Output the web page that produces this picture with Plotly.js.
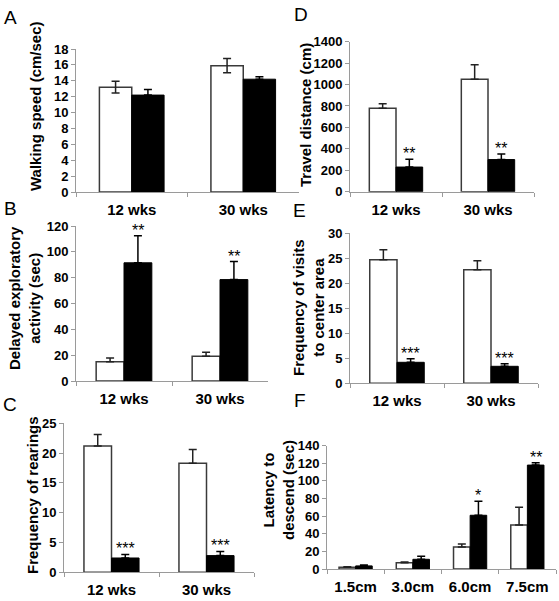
<!DOCTYPE html>
<html><head><meta charset="utf-8">
<script src="https://cdn.plot.ly/plotly-3.0.1.min.js"></script>
<style>html,body{margin:0;padding:0;background:#fff}#chart{width:559px;height:601px}</style>
</head><body><div id="chart"></div>
<script>
// ---- data ----
const agesWks = ["12 wks", "30 wks"];
const heights = ["1.5cm", "3.0cm", "6.0cm", "7.5cm"];

const speedCtrl = [13.2, 15.9],   speedCtrlErr = [0.75, 0.9];
const speedMut  = [12.2, 14.2],   speedMutErr  = [0.7, 0.3];

const delayCtrl = [14.9, 19.2],   delayCtrlErr = [3, 3];
const delayMut  = [91.5, 78.5],   delayMutErr  = [21, 14];
const delaySig  = ["**", "**"];

const rearCtrl = [21.2, 18.3],    rearCtrlErr = [1.9, 2.3];
const rearMut  = [2.4, 2.8],      rearMutErr  = [0.6, 0.7];
const rearSig  = ["***", "***"];

const travelCtrl = [780, 1050],   travelCtrlErr = [40, 135];
const travelMut  = [230, 300],    travelMutErr  = [72, 52];
const travelSig  = ["**", "**"];

const visitCtrl = [24.7, 22.7],   visitCtrlErr = [2.0, 1.8];
const visitMut  = [4.2, 3.4],     visitMutErr  = [0.7, 0.5];
const visitSig  = ["***", "***"];

const latCtrl = [2, 7, 25, 50],    latCtrlErr = [0.5, 1, 3.5, 20];
const latMut  = [3.5, 11, 61, 118], latMutErr  = [1, 3.5, 16, 2.5];
const latSig  = ["", "", "*", "**"];

// ---- layout helpers ----
const W = 559, H = 601;
const px = v => v / W;
const py = v => 1 - v / H;
const BARGAP = 0.42;
const OFF = (1 - BARGAP) / 4;
const FONT = "Liberation Sans, Arial, sans-serif";
const AX = "#9a9a9a";

const traces = [];
const annotations = [];

function panel(n, cats, ctrl, ctrlErr, mut, mutErr, sig, symmetric) {
  const xa = n === 1 ? "x" : "x" + n, ya = n === 1 ? "y" : "y" + n;
  traces.push({
    type: "bar", x: cats, y: ctrl, xaxis: xa, yaxis: ya,
    marker: {color: "#ffffff", line: {color: "#3a3a3a", width: 1.5}},
    error_y: symmetric ? {type: "data", array: ctrlErr, color: "#222", thickness: 1.5, width: 4}
                       : {type: "data", array: ctrlErr, arrayminus: ctrlErr.map(() => 0), symmetric: false, color: "#222", thickness: 1.5, width: 4},
    showlegend: false, hoverinfo: "skip"
  });
  traces.push({
    type: "bar", x: cats, y: mut, xaxis: xa, yaxis: ya,
    marker: {color: "#000000", line: {color: "#000", width: 1}},
    error_y: {type: "data", array: mutErr, arrayminus: mutErr.map(() => 0), symmetric: false, color: "#000", thickness: 1.5, width: 4},
    showlegend: false, hoverinfo: "skip"
  });
  if (sig) {
    sig.forEach((s, i) => {
      if (!s) return;
      annotations.push({
        xref: xa, yref: ya, x: i + OFF, y: mut[i] + mutErr[i],
        yanchor: "bottom", xanchor: "center", yshift: -5,
        text: s, showarrow: false, font: {family: FONT, size: 16, color: "#000"}
      });
    });
  }
}

panel(1, agesWks, speedCtrl, speedCtrlErr, speedMut, speedMutErr, null, true);
panel(2, agesWks, delayCtrl, delayCtrlErr, delayMut, delayMutErr, delaySig, false);
panel(3, agesWks, rearCtrl, rearCtrlErr, rearMut, rearMutErr, rearSig, false);
panel(4, agesWks, travelCtrl, travelCtrlErr, travelMut, travelMutErr, travelSig, false);
panel(5, agesWks, visitCtrl, visitCtrlErr, visitMut, visitMutErr, visitSig, false);
panel(6, heights, latCtrl, latCtrlErr, latMut, latMutErr, latSig, false);

function xaxis(x0, x1, n) {
  return {
    domain: [px(x0), px(x1)], anchor: n === 1 ? "y" : "y" + n,
    type: "category", showline: true, linecolor: AX, linewidth: 1,
    ticks: "outside", tickson: "boundaries", ticklen: 4, tickcolor: AX,
    showgrid: false, zeroline: false, ticklabelstandoff: 4,
    tickfont: {family: FONT, size: 15, color: "#000", weight: "bold"}
  };
}
function yaxis(y0, y1, max, dt, n) {
  return {
    domain: [py(y0), py(y1)], anchor: n === 1 ? "x" : "x" + n,
    range: [0, max], dtick: dt, tick0: 0,
    showline: true, linecolor: AX, linewidth: 1,
    ticks: "outside", ticklen: 4, tickcolor: AX,
    showgrid: false, zeroline: false,
    tickfont: {family: FONT, size: 13, color: "#000", weight: "bold"}
  };
}

const layout = {
  width: W, height: H, margin: {l: 0, r: 0, t: 0, b: 0},
  paper_bgcolor: "#fff", plot_bgcolor: "#fff",
  barmode: "group", bargap: BARGAP, bargroupgap: 0, showlegend: false,
  xaxis: xaxis(76, 299, 1),   yaxis: yaxis(192, 49, 18, 2, 1),
  xaxis2: xaxis(76, 268, 2),  yaxis2: yaxis(381, 226, 120, 20, 2),
  xaxis3: xaxis(64, 254, 3),  yaxis3: yaxis(572.3, 423.3, 25, 5, 3),
  xaxis4: xaxis(350, 534, 4), yaxis4: yaxis(191.7, 41.7, 1400, 200, 4),
  xaxis5: xaxis(350, 538, 5), yaxis5: yaxis(383.3, 233.3, 30, 5, 5),
  xaxis6: xaxis(327, 556, 6), yaxis6: yaxis(569, 445.7, 140, 20, 6),
  annotations: annotations
};

function label(t, x, y) {
  annotations.push({xref: "paper", yref: "paper", x: px(x), y: py(y), text: t, showarrow: false,
    xanchor: "center", yanchor: "middle", font: {family: FONT, size: 19, color: "#000"}});
}
function ytitle(t, x, y) {
  annotations.push({xref: "paper", yref: "paper", x: px(x), y: py(y), text: t, showarrow: false,
    textangle: -90, xanchor: "center", yanchor: "middle",
    font: {family: FONT, size: 15, color: "#000", weight: "bold"}});
}
label("A", 10, 18); label("B", 10, 208); label("C", 10, 404);
label("D", 301, 15); label("E", 299, 210); label("F", 300, 400);
ytitle("Walking speed (cm/sec)", 35, 106);
ytitle("Delayed exploratory<br>activity (sec)", 24, 298);
ytitle("Frequency of rearings", 32, 495);
ytitle("Travel distance (cm)", 305, 115);
ytitle("Frequency of visits<br>to center area", 308, 307);
ytitle("Latency to<br>descend (sec)", 278, 490);

Plotly.newPlot("chart", traces, layout, {staticPlot: true, displayModeBar: false});
</script></body></html>
